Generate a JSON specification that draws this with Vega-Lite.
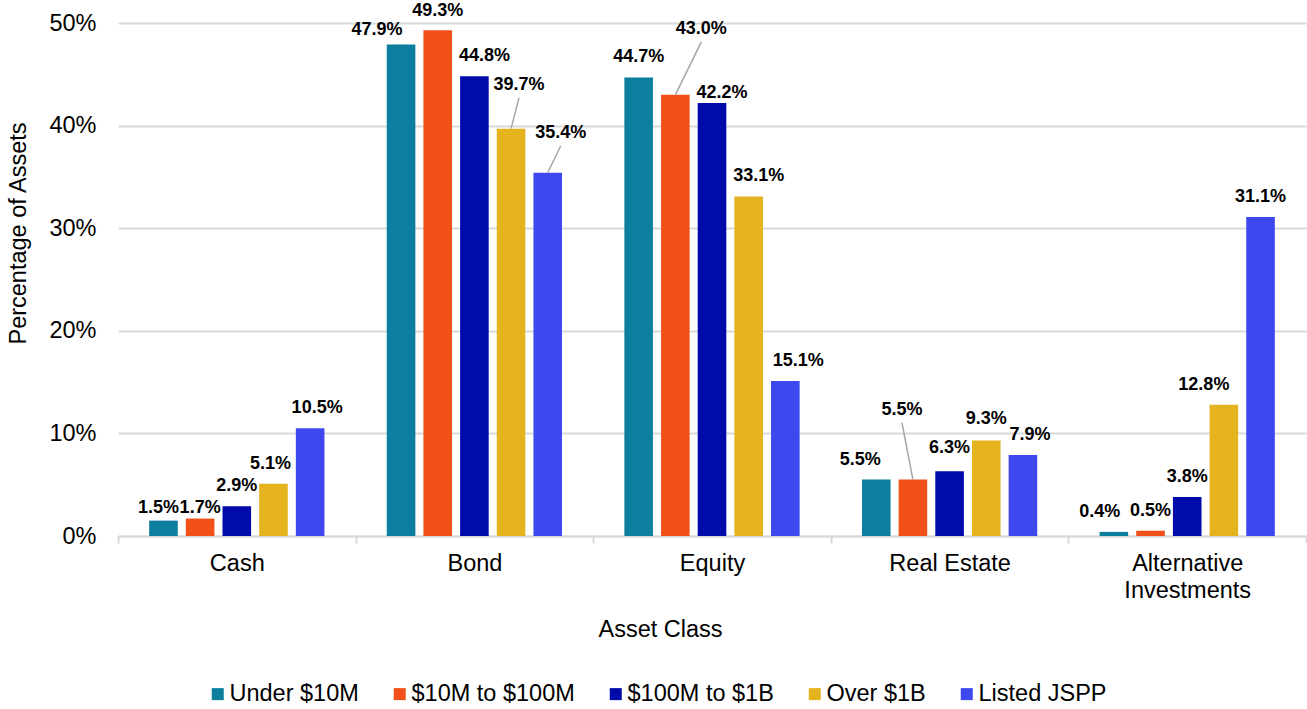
{
  "$schema": "https://vega.github.io/schema/vega-lite/v6.json",
  "width": 1188,
  "height": 513,
  "autosize": {"type": "none"},
  "padding": {"left": 118, "top": 23, "right": 1, "bottom": 173},
  "background": "white",
  "config": {"font": "Liberation Sans", "view": {"stroke": null}},
  "data": {
    "values": [
      {"cls": "Cash", "grp": "Under $10M", "v": 0.015},
      {"cls": "Cash", "grp": "$10M to $100M", "v": 0.017},
      {"cls": "Cash", "grp": "$100M to $1B", "v": 0.029},
      {"cls": "Cash", "grp": "Over $1B", "v": 0.051},
      {"cls": "Cash", "grp": "Listed JSPP", "v": 0.105},
      {"cls": "Bond", "grp": "Under $10M", "v": 0.479},
      {"cls": "Bond", "grp": "$10M to $100M", "v": 0.493},
      {"cls": "Bond", "grp": "$100M to $1B", "v": 0.448},
      {"cls": "Bond", "grp": "Over $1B", "v": 0.397},
      {"cls": "Bond", "grp": "Listed JSPP", "v": 0.354},
      {"cls": "Equity", "grp": "Under $10M", "v": 0.447},
      {"cls": "Equity", "grp": "$10M to $100M", "v": 0.430},
      {"cls": "Equity", "grp": "$100M to $1B", "v": 0.422},
      {"cls": "Equity", "grp": "Over $1B", "v": 0.331},
      {"cls": "Equity", "grp": "Listed JSPP", "v": 0.151},
      {"cls": "Real Estate", "grp": "Under $10M", "v": 0.055},
      {"cls": "Real Estate", "grp": "$10M to $100M", "v": 0.055},
      {"cls": "Real Estate", "grp": "$100M to $1B", "v": 0.063},
      {"cls": "Real Estate", "grp": "Over $1B", "v": 0.093},
      {"cls": "Real Estate", "grp": "Listed JSPP", "v": 0.079},
      {"cls": "Alternative Investments", "grp": "Under $10M", "v": 0.004},
      {"cls": "Alternative Investments", "grp": "$10M to $100M", "v": 0.005},
      {"cls": "Alternative Investments", "grp": "$100M to $1B", "v": 0.038},
      {"cls": "Alternative Investments", "grp": "Over $1B", "v": 0.128},
      {"cls": "Alternative Investments", "grp": "Listed JSPP", "v": 0.311}
    ]
  },
  "layer": [
    {
      "mark": {"type": "bar"},
      "encoding": {
        "x": {
          "field": "cls",
          "type": "nominal",
          "sort": null,
          "scale": {"paddingInner": 0, "paddingOuter": 0},
          "axis": {
            "title": "Asset Class",
            "labelAngle": 0,
            "labelFontSize": 23.5,
            "labelColor": "#000000",
            "labelPadding": 8,
            "labelLineHeight": 27,
            "labelExpr": "datum.value == 'Alternative Investments' ? ['Alternative', 'Investments'] : datum.value",
            "domainColor": "#d9d9d9",
            "domainWidth": 2,
            "tickColor": "#d9d9d9",
            "tickWidth": 2,
            "tickSize": 7,
            "tickBand": "extent",
            "titleFontSize": 23.5,
            "titleFontWeight": "normal",
            "titleColor": "#000000",
            "titlePadding": 16,
            "titleX": 542
          }
        },
        "xOffset": {
          "field": "grp",
          "type": "nominal",
          "sort": ["Under $10M", "$10M to $100M", "$100M to $1B", "Over $1B", "Listed JSPP"],
          "scale": {"paddingInner": 0.22, "paddingOuter": 0.85}
        },
        "y": {
          "field": "v",
          "type": "quantitative",
          "scale": {"domain": [0, 0.5]},
          "axis": {
            "format": ".0%",
            "values": [0, 0.1, 0.2, 0.3, 0.4, 0.5],
            "grid": true,
            "gridColor": "#d9d9d9",
            "gridWidth": 2,
            "domain": false,
            "ticks": false,
            "labelFontSize": 23.5,
            "labelColor": "#000000",
            "labelPadding": 22,
            "title": "Percentage of Assets",
            "titleFontSize": 23.5,
            "titleFontWeight": "normal",
            "titleColor": "#000000",
            "titlePadding": 18,
            "titleY": 210
          }
        },
        "color": {
          "field": "grp",
          "type": "nominal",
          "sort": ["Under $10M", "$10M to $100M", "$100M to $1B", "Over $1B", "Listed JSPP"],
          "scale": {
            "domain": ["Under $10M", "$10M to $100M", "$100M to $1B", "Over $1B", "Listed JSPP"],
            "range": ["#0B7F9D", "#F15119", "#000BA9", "#E5B31E", "#3D48EE"]
          },
          "legend": {
            "orient": "none",
            "legendX": 88,
            "legendY": 659,
            "direction": "horizontal",
            "title": null,
            "symbolType": "square",
            "symbolSize": 144,
            "symbolStrokeWidth": 0,
            "labelFontSize": 23.5,
            "labelColor": "#000000",
            "labelOffset": 0,
            "labelLimit": 300,
            "columnPadding": 29
          }
        }
      }
    },
    {
      "mark": {
        "type": "text",
        "baseline": "alphabetic",
        "fontWeight": "bold",
        "fontSize": 18,
        "color": "#000000",
        "dx": {"expr": "({'Cash|Under $10M': -5, 'Cash|Over $1B': -3, 'Cash|Listed JSPP': 7, 'Bond|Under $10M': -24, 'Bond|$100M to $1B': 10, 'Bond|Over $1B': 8, 'Bond|Listed JSPP': 13, 'Equity|$10M to $100M': 26, 'Equity|$100M to $1B': 10, 'Equity|Over $1B': 10, 'Equity|Listed JSPP': 13, 'Real Estate|Under $10M': -16, 'Real Estate|$10M to $100M': -11, 'Real Estate|Listed JSPP': 7, 'Alternative Investments|Under $10M': -14, 'Alternative Investments|Over $1B': -20})[datum.cls + '|' + datum.grp] || 0"},
        "dy": {"expr": "-15 + (({'Cash|Under $10M': 7, 'Cash|$10M to $100M': 9, 'Bond|Under $10M': 5, 'Bond|$10M to $100M': 1, 'Bond|Over $1B': -24, 'Bond|Listed JSPP': -20, 'Equity|$10M to $100M': -46, 'Equity|$100M to $1B': 10, 'Real Estate|$10M to $100M': -50, 'Real Estate|$100M to $1B': -3, 'Real Estate|Over $1B': -2})[datum.cls + '|' + datum.grp] || 0)"}
      },
      "encoding": {
        "x": {"field": "cls", "type": "nominal", "sort": null},
        "xOffset": {"field": "grp", "type": "nominal", "sort": ["Under $10M", "$10M to $100M", "$100M to $1B", "Over $1B", "Listed JSPP"]},
        "y": {"field": "v", "type": "quantitative"},
        "text": {"field": "v", "type": "quantitative", "format": ".1%"}
      }
    },
    {
      "transform": [
        {"filter": "indexof(['Bond|Over $1B', 'Bond|Listed JSPP', 'Equity|$10M to $100M', 'Real Estate|$10M to $100M'], datum.cls + '|' + datum.grp) >= 0"}
      ],
      "mark": {"type": "rule", "color": "#a6a6a6", "strokeWidth": 1.5},
      "encoding": {
        "x": {"value": {"expr": "scale('x', datum.cls) + scale('xOffset', datum.grp) + bandwidth('xOffset') / 2"}},
        "x2": {"value": {"expr": "scale('x', datum.cls) + scale('xOffset', datum.grp) + bandwidth('xOffset') / 2 + (({'Bond|Over $1B': 8, 'Bond|Listed JSPP': 13, 'Equity|$10M to $100M': 26, 'Real Estate|$10M to $100M': -11})[datum.cls + '|' + datum.grp] || 0)"}},
        "y": {"value": {"expr": "scale('y', datum.v)"}},
        "y2": {"value": {"expr": "scale('y', datum.v) - 7 + (({'Bond|Over $1B': -24, 'Bond|Listed JSPP': -20, 'Equity|$10M to $100M': -46, 'Real Estate|$10M to $100M': -50})[datum.cls + '|' + datum.grp] || 0)"}}
      }
    }
  ]
}
